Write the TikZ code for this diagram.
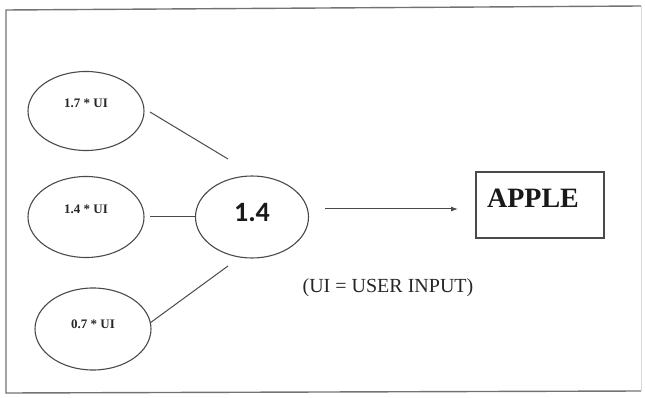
\documentclass[tikz,border=0pt]{standalone}
\usepackage{fontspec}
\setmainfont{Liberation Serif}
\newfontfamily\calib{Carlito}
\usetikzlibrary{shapes.geometric,arrows.meta}
\definecolor{ln}{HTML}{4A4A4A}
\tikzset{
  oval/.style={ellipse, draw=ln, line width=1.1pt, minimum width=116pt, minimum height=79pt, inner sep=0pt},
  lbl/.style={font=\fontsize{13}{14}\selectfont\bfseries, text=black!85, inner sep=0pt},
  conn/.style={draw=ln, line width=1pt},
}
\begin{document}
\begin{tikzpicture}[x=1pt,y=-1pt]
\useasboundingbox (0,0) rectangle (645,398);
% frame
\draw[draw=black!55, line width=1.4pt] (641,6) -- (6,10) -- (6,393) -- (641,391);
\draw[draw=black!15, line width=0.8pt] (641,6) -- (641,391);
% ellipses
\node[oval] (e1) at (86,111) {};
\node[oval, minimum height=81pt] (e2) at (86,217) {};
\node[oval, minimum height=82pt] (e3) at (93,329) {};
\node[oval, minimum width=113pt, minimum height=82pt] (c) at (252,217) {};
\node[lbl] (t1) at (86,103) {1.7 * UI};
\node[lbl] (t2) at (86,209) {1.4 * UI};
\node[lbl] (t3) at (93,324) {0.7 * UI};
\node[font=\calib\fontsize{28}{30}\selectfont\bfseries, text=black!90, inner sep=0pt] (tc) at (252,213) {1.4};
% connectors
\coordinate (a1) at (150,112);
\coordinate (b1) at (228,159);
\coordinate (a2) at (150,217);
\coordinate (a3) at (150,323);
\coordinate (b3) at (228,266);
\draw[conn] (a1) -- (b1);
\draw[conn] (a2) -- (c.west);
\draw[conn] (a3) -- (b3);
% arrow and box
\node[draw=ln, line width=1.3pt, minimum width=128pt, minimum height=66pt, inner sep=0pt] (box) at (540,205) {};
\node[font=\fontsize{28}{30}\selectfont\bfseries, text=black!90, inner sep=0pt] (apple) at (533,198) {APPLE};
\coordinate (ar0) at (325,209);
\coordinate (ar1) at (458,209);
\draw[conn, -{Latex[length=7pt,width=5pt]}] (ar0) -- (ar1);
\node[font=\fontsize{20}{22}\selectfont, text=black!85, inner sep=0pt] (note) at (388,288) {(UI = USER INPUT)};
\end{tikzpicture}
\end{document}
